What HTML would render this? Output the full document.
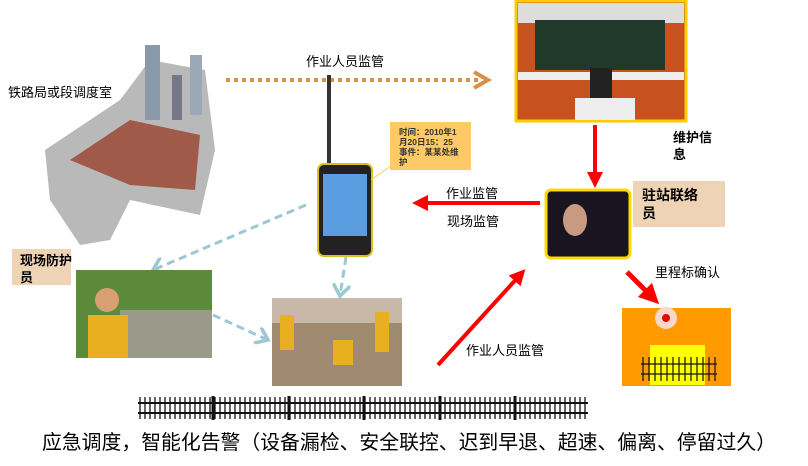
<!DOCTYPE html><html><head><meta charset="utf-8"><style>body{margin:0;background:#fff}svg{display:block}text{font-family:"Liberation Sans","Noto Sans CJK SC",sans-serif}</style></head><body>
<svg width="808" height="466" viewBox="0 0 808 466">
<defs>
<marker id="r" markerWidth="4" markerHeight="4" refX="2" refY="2" orient="auto"><path d="M0,0L4,2L0,4z" fill="#f00"/></marker>
<marker id="b" markerWidth="6" markerHeight="6" refX="4" refY="3" orient="auto"><path d="M0,0L4,3L0,6" fill="none" stroke="#9cc8d2" stroke-width="1.2"/></marker>
</defs>
<path d="M45,150 L120,100 L150,60 L205,70 L215,150 L200,215 L130,200 L110,240 L80,245 L50,200z" fill="#b9b9b9"/>
<path d="M70,160 L130,120 L200,135 L195,190 L130,185z" fill="#a05a4a"/>
<rect x="145" y="45" width="15" height="75" fill="#8a99aa"/><rect x="190" y="55" width="12" height="60" fill="#9aa8b8"/><rect x="172" y="75" width="10" height="45" fill="#778"/>
<text x="8" y="97" font-size="13">铁路局或段调度室</text>
<line x1="226" y1="80" x2="482" y2="80" stroke="#d9914a" stroke-width="4" stroke-dasharray="4,4"/>
<path d="M474,72 L488,80 L474,88" fill="none" stroke="#d9914a" stroke-width="4"/>
<text x="306" y="66" font-size="13">作业人员监管</text>
<rect x="516" y="1" width="170" height="120" fill="#c8521e" stroke="#ffcc00" stroke-width="3"/>
<rect x="518" y="3" width="166" height="20" fill="#ddd"/>
<rect x="535" y="20" width="130" height="50" fill="#1f3a2a"/>
<rect x="518" y="72" width="166" height="8" fill="#eee"/>
<rect x="590" y="68" width="22" height="30" fill="#222"/><rect x="575" y="98" width="60" height="22" fill="#eee"/>
<line x1="595" y1="125" x2="595" y2="180" stroke="#f00" stroke-width="4" marker-end="url(#r)"/>
<text x="673" y="142" font-size="13" font-weight="bold">维护信</text><text x="673" y="159" font-size="13" font-weight="bold">息</text>
<line x1="329" y1="75" x2="329" y2="166" stroke="#333" stroke-width="4"/>
<rect x="318" y="164" width="54" height="92" rx="6" fill="#222" stroke="#d8c020" stroke-width="2"/>
<rect x="323" y="174" width="44" height="62" fill="#5a9de0"/>
<line x1="371" y1="180" x2="392" y2="165" stroke="#ffc966"/>
<rect x="390" y="122" width="81" height="48" fill="#ffc966"/>
<text font-size="8.5" font-weight="bold" fill="#333"><tspan x="399" y="135">时间：2010年1</tspan><tspan x="399" y="145">月20日15：25</tspan><tspan x="399" y="155">事件：某某处维</tspan><tspan x="399" y="165">护</tspan></text>
<line x1="540" y1="203" x2="420" y2="203" stroke="#f00" stroke-width="4" marker-end="url(#r)"/>
<text x="446" y="198" font-size="13">作业监管</text><text x="447" y="226" font-size="13">现场监管</text>
<rect x="546" y="190" width="84" height="68" rx="5" fill="#1a1420" stroke="#ffd800" stroke-width="3"/>
<ellipse cx="575" cy="220" rx="12" ry="16" fill="#c89a80"/>
<rect x="633" y="181" width="92" height="46" fill="#efd3b5"/>
<text x="642" y="200" font-size="14" font-weight="bold">驻站联络</text><text x="642" y="218" font-size="14" font-weight="bold">员</text>
<line x1="306" y1="205" x2="153" y2="270" stroke="#9cc8d2" stroke-width="3" stroke-dasharray="8,5" marker-end="url(#b)"/>
<line x1="213" y1="315" x2="268" y2="340" stroke="#9cc8d2" stroke-width="3" stroke-dasharray="8,5" marker-end="url(#b)"/>
<line x1="346" y1="257" x2="340" y2="296" stroke="#9cc8d2" stroke-width="3" stroke-dasharray="8,5" marker-end="url(#b)"/>
<rect x="76" y="270" width="136" height="88" fill="#5a8a3a"/>
<rect x="120" y="310" width="92" height="48" fill="#9a9a8a"/>
<rect x="88" y="315" width="40" height="43" fill="#e8b020"/>
<circle cx="107" cy="300" r="12" fill="#d8a070"/>
<rect x="12" y="249" width="59" height="36" fill="#efd3b5"/>
<text x="20" y="265" font-size="13" font-weight="bold">现场防护</text><text x="20" y="282" font-size="13" font-weight="bold">员</text>
<rect x="272" y="298" width="130" height="88" fill="#a08a70"/>
<rect x="272" y="298" width="130" height="25" fill="#c8b8a8"/>
<rect x="280" y="315" width="14" height="35" fill="#e8b020"/><rect x="375" y="312" width="14" height="40" fill="#e8b020"/><rect x="333" y="340" width="20" height="25" fill="#e8b020"/>
<line x1="438" y1="365" x2="520" y2="275" stroke="#f00" stroke-width="4" marker-end="url(#r)"/>
<text x="466" y="355" font-size="13">作业人员监管</text>
<line x1="627" y1="272" x2="652" y2="297" stroke="#f00" stroke-width="5" marker-end="url(#r)"/>
<text x="655" y="277" font-size="13">里程标确认</text>
<rect x="622" y="308" width="109" height="78" fill="#ff9a00"/>
<circle cx="666" cy="318" r="11" fill="#f8d8c8"/><circle cx="666" cy="318" r="4" fill="#e00"/>
<rect x="650" y="345" width="55" height="40" fill="#ffff00"/>
<g stroke="#111" stroke-width="1.2"><line x1="641" y1="364" x2="717" y2="364"/><line x1="641" y1="374" x2="717" y2="374"/>
<path d="M643,357V381M649,357V381M655,357V381M661,357V381M667,357V381M673,357V381M679,357V381M685,357V381M691,357V381M697,357V381M703,357V381M709,357V381M715,357V381"/></g>
<g stroke="#111"><line x1="138" y1="403" x2="588" y2="403" stroke-width="2"/><line x1="138" y1="413" x2="588" y2="413" stroke-width="2"/></g>
<g stroke="#111" stroke-width="1.3">
<path d="M140,397V419M145,397V419M150,397V419M155,397V419M160,397V419M165,397V419M170,397V419M175,397V419M180,397V419M185,397V419M190,397V419M195,397V419M200,397V419M205,397V419M210,397V419M215,397V419M220,397V419M225,397V419M230,397V419M235,397V419M240,397V419M245,397V419M250,397V419M255,397V419M260,397V419M265,397V419M270,397V419M275,397V419M280,397V419M285,397V419M290,397V419M295,397V419M300,397V419M305,397V419M310,397V419M315,397V419M320,397V419M325,397V419M330,397V419M335,397V419M340,397V419M345,397V419M350,397V419M355,397V419M360,397V419M365,397V419M370,397V419M375,397V419M380,397V419M385,397V419M390,397V419M395,397V419M400,397V419M405,397V419M410,397V419M415,397V419M420,397V419M425,397V419M430,397V419M435,397V419M440,397V419M445,397V419M450,397V419M455,397V419M460,397V419M465,397V419M470,397V419M475,397V419M480,397V419M485,397V419M490,397V419M495,397V419M500,397V419M505,397V419M510,397V419M515,397V419M520,397V419M525,397V419M530,397V419M535,397V419M540,397V419M545,397V419M550,397V419M555,397V419M560,397V419M565,397V419M570,397V419M575,397V419M580,397V419M585,397V419"/></g>
<g stroke="#111" stroke-width="3"><path d="M213,396V420M289,396V420M364,396V420M440,396V420M515,396V420"/></g>
<text x="42" y="449" font-size="20" textLength="734" lengthAdjust="spacingAndGlyphs">应急调度，智能化告警（设备漏检、安全联控、迟到早退、超速、偏离、停留过久）</text>
</svg></body></html>
